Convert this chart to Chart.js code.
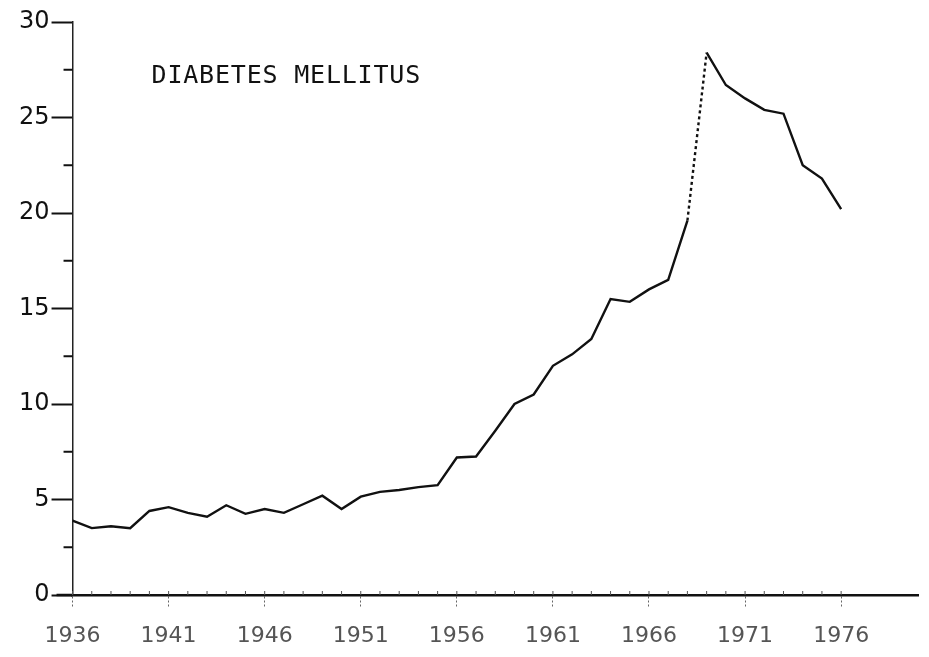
<!DOCTYPE html>
<html>
<head>
<meta charset="utf-8">
<title>Diabetes mellitus</title>
<script src="https://cdn.jsdelivr.net/npm/chart.js@4.4.1/dist/chart.umd.min.js"></script>
<style>
  html, body { margin: 0; padding: 0; background: #fff; }
  #wrap { width: 929px; height: 657px; }
</style>
</head>
<body>
<div id="wrap"><canvas id="chart" width="929" height="657"></canvas></div>
<script>
  "use strict";
  const TITLE = "DIABETES MELLITUS";
  const YEARS = [
    1936, 1937, 1938, 1939, 1940, 1941, 1942, 1943, 1944, 1945,
    1946, 1947, 1948, 1949, 1950, 1951, 1952, 1953, 1954, 1955,
    1956, 1957, 1958, 1959, 1960, 1961, 1962, 1963, 1964, 1965,
    1966, 1967, 1968, 1969, 1970, 1971, 1972, 1973, 1974, 1975, 1976,
  ];
  const RATES = [
    3.9, 3.5, 3.6, 3.5, 4.4, 4.6, 4.3, 4.1, 4.7, 4.25,
    4.5, 4.3, 4.75, 5.2, 4.5, 5.15, 5.4, 5.5, 5.65, 5.75,
    7.2, 7.25, 8.6, 10.0, 10.5, 12.0, 12.6, 13.4, 15.5, 15.35,
    16.0, 16.5, 19.6, 28.4, 26.7, 26.0, 25.4, 25.2, 22.5, 21.8, 20.2,
  ];
  const X_TICKS = [1936, 1941, 1946, 1951, 1956, 1961, 1966, 1971, 1976];
  const Y_TICKS = [0, 5, 10, 15, 20, 25, 30];
  const Y_MINOR = [2.5, 7.5, 12.5, 17.5, 22.5, 27.5];

  // small extra marks: half-step ticks on y, yearly nicks on x, and the in-plot label
  const decorations = {
    id: "decorations",
    afterDraw(chart) {
      const ctx = chart.ctx;
      const xs = chart.scales.x, ys = chart.scales.y;
      const area = chart.chartArea;
      ctx.save();
      ctx.strokeStyle = "#111";
      ctx.lineWidth = 2;
      Y_MINOR.forEach((v) => {
        const y = ys.getPixelForValue(v);
        ctx.beginPath();
        ctx.moveTo(area.left - 9, y);
        ctx.lineTo(area.left, y);
        ctx.stroke();
      });
      // axis runs a little past the y axis on the left
      ctx.lineWidth = 2.5;
      ctx.beginPath();
      ctx.moveTo(area.left - 16, area.bottom);
      ctx.lineTo(area.left, area.bottom);
      ctx.stroke();
      ctx.lineWidth = 1;
      ctx.strokeStyle = "#555";
      YEARS.forEach((yr) => {
        const x = xs.getPixelForValue(yr);
        ctx.beginPath();
        ctx.moveTo(x, area.bottom);
        ctx.lineTo(x, area.bottom - 4);
        ctx.stroke();
      });
      ctx.fillStyle = "#111";
      ctx.font = "25px 'DejaVu Sans Mono'";
      if ("letterSpacing" in ctx) ctx.letterSpacing = "0.8px";
      ctx.textBaseline = "alphabetic";
      ctx.fillText(TITLE, area.left + 79, area.top + 61);
      ctx.restore();
    },
  };

  new Chart(document.getElementById("chart").getContext("2d"), {
    type: "line",
    data: {
      datasets: [{
        data: YEARS.map((y, i) => ({ x: y, y: RATES[i] })),
        borderColor: "#111",
        borderWidth: 2.4,
        pointRadius: 0,
        tension: 0,
        fill: false,
        segment: {
          borderDash: (c) => (YEARS[c.p0DataIndex] === 1968 ? [3, 3] : undefined),
        },
      }],
    },
    options: {
      responsive: false,
      animation: false,
      layout: { padding: { left: 17, right: 11, top: 22, bottom: 0 } },
      plugins: { legend: { display: false }, tooltip: { enabled: false } },
      scales: {
        x: {
          type: "linear",
          min: 1936,
          max: 1980,
          afterBuildTicks: (axis) => { axis.ticks = X_TICKS.map((v) => ({ value: v })); },
          afterFit: (axis) => { axis.height = 62; },
          ticks: {
            color: "#555",
            font: { family: "'DejaVu Sans'", size: 22 },
            padding: 16,
            maxRotation: 0,
            autoSkip: false,
            callback: (v) => String(v),
          },
          grid: {
            drawOnChartArea: false,
            drawTicks: true,
            tickLength: 12,
            tickColor: "#666",
            tickWidth: 1,
            tickBorderDash: [2, 2],
          },
          border: { display: true, color: "#111", width: 2.5 },
        },
        y: {
          min: 0,
          max: 30,
          afterBuildTicks: (axis) => { axis.ticks = Y_TICKS.map((v) => ({ value: v })); },
          ticks: {
            color: "#111",
            font: { family: "'DejaVu Sans'", size: 24 },
            padding: 2,
            callback: (v) => String(v),
          },
          grid: {
            drawOnChartArea: false,
            drawTicks: true,
            tickLength: 21,
            tickColor: "#111",
            tickWidth: 2,
          },
          border: { display: true, color: "#222", width: 1.5 },
        },
      },
    },
    plugins: [decorations],
  });
</script>
</body>
</html>
